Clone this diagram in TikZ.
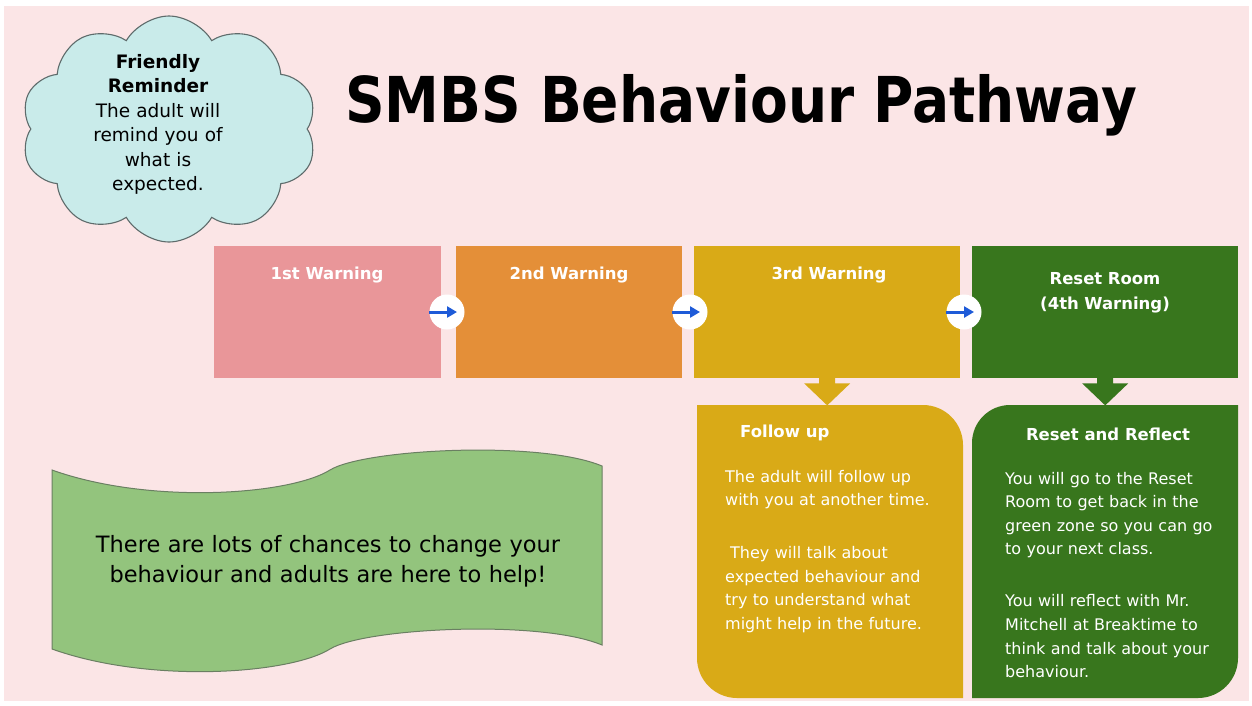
\documentclass[tikz,border=0pt]{standalone}
\usepackage{fontspec}
\setmainfont{DejaVu Sans}
\usetikzlibrary{shapes.symbols,arrows.meta,calc}

\definecolor{pagebg}{HTML}{FBE5E6}
\definecolor{warnA}{HTML}{E99699}
\definecolor{warnB}{HTML}{E48F38}
\definecolor{warnC}{HTML}{D9AA17}
\definecolor{warnD}{HTML}{38761D}
\definecolor{cloudfill}{HTML}{C9EBEA}
\definecolor{cloudline}{HTML}{5E6B6B}
\definecolor{bannerfill}{HTML}{93C47D}
\definecolor{bannerline}{HTML}{6A7F62}
\definecolor{arrowblue}{HTML}{1E5BD8}

\tikzset{
  warnbox/.style={rectangle, inner sep=0pt, anchor=north west, minimum height=132pt},
  headtext/.style={text=white, font=\bfseries\fontsize{16.5}{25}\selectfont, anchor=base},
  hop/.style={circle, fill=white, minimum size=35pt, inner sep=0pt},
  hoparrow/.style={draw=arrowblue, line width=3pt, -{Triangle[length=10pt,width=11pt]}},
  bodytext/.style={text=white, font=\fontsize{16}{23.6}\selectfont, align=left, anchor=base west, inner sep=0pt},
  boxhead/.style={text=white, font=\bfseries\fontsize{16.5}{20}\selectfont, inner sep=0pt},
}

\begin{document}
\begin{tikzpicture}[x=1pt,y=-1pt]
% page
\fill[white] (0,0) rectangle (1252,705);
\fill[pagebg] (4,6) rectangle (1249,701);
\useasboundingbox (0,0) rectangle (1252,705);

% title
\node[anchor=base, font=\bfseries\fontsize{55}{60}\selectfont, inner sep=0pt] (title) at (741,122)
  {\scalebox{1}[1.15]{SMBS Behaviour Pathway}};

% friendly reminder cloud
\node[cloud, cloud puffs=10, cloud puff arc=120, aspect=1.3, minimum width=296pt, minimum height=226pt,
      draw=cloudline, fill=cloudfill, line width=1.1pt] (cloud) at (169,129) {};
\node[anchor=base, text width=170pt, align=center, inner sep=0pt,
      font=\fontsize{18.5}{24.5}\selectfont] (cloudtext) at (158,68)
  {\textbf{Friendly}\\ \textbf{Reminder}\\ The adult will\\ remind you of\\ what is\\ expected.};

% warning steps
\node[warnbox, fill=warnA, minimum width=227pt] (w1) at (214,246) {};
\node[warnbox, fill=warnB, minimum width=226pt] (w2) at (456,246) {};
\node[warnbox, fill=warnC, minimum width=266pt] (w3) at (694,246) {};
\node[warnbox, fill=warnD, minimum width=266pt] (w4) at (972,246) {};

\node[headtext] (h1) at (327,279) {1st Warning};
\node[headtext] (h2) at (569,279) {2nd Warning};
\node[headtext] (h3) at (829,279) {3rd Warning};
\node[headtext, text width=200pt, align=center] (h4) at (1105,284) {Reset Room\\ (4th Warning)};

% step connectors
\node[hop] (c1) at (447,312) {};
\node[hop] (c2) at (690,312) {};
\node[hop] (c3) at (964,312) {};
\foreach \c in {c1,c2,c3}
  \draw[hoparrow] (\c.west) -- ([xshift=10pt]\c.center);

% down arrows
\foreach \w/\col in {w3/warnC, w4/warnD}
  \fill[\col] ($(\w.south)+(-8,-1)$) -- ($(\w.south)+(8,-1)$) -- ($(\w.south)+(8,5)$)
    -- ($(\w.south)+(23,5)$) -- ($(\w.south)+(0,27)$) -- ($(\w.south)+(-23,5)$)
    -- ($(\w.south)+(-8,5)$) -- cycle;

% follow up panel
\fill[warnC] (697,405) -- (923,405) .. controls (945,405) and (963,423) .. (963,445)
  -- (963,698) -- (737,698) .. controls (715,698) and (697,680) .. (697,658) -- cycle;
\node[boxhead, anchor=base west] (fuh) at (740,437) {Follow up};
\node[bodytext, text width=235pt] (fub) at (725,482)
  {The adult will follow up\\ with you at another time.\\[29.5pt]
   \hspace*{5pt}They will talk about\\ expected behaviour and\\ try to understand what\\ might help in the future.};

% reset and reflect panel
\fill[warnD] (972,443) .. controls (972,422) and (989,405) .. (1010,405) -- (1238,405)
  -- (1238,658) .. controls (1238,680) and (1220,698) .. (1198,698) -- (972,698) -- cycle;
\node[boxhead, anchor=base] (rrh) at (1108,440) {Reset and Reflect};
\node[bodytext, text width=230pt] (rrb) at (1005,484)
  {You will go to the Reset\\ Room to get back in the\\ green zone so you can go\\ to your next class.\\[28.5pt]
   You will reflect with Mr.\\ Mitchell at Breaktime to\\ think and talk about your\\ behaviour.};

% encouragement banner
\filldraw[fill=bannerfill, draw=bannerline, line width=1pt]
  (52,470) .. controls (150,505) and (290,495) .. (330,470)
  .. controls (364,449) and (540,440) .. (602,466) -- (602,645)
  .. controls (540,619) and (364,628) .. (330,649)
  .. controls (290,674) and (150,684) .. (52,649) -- cycle;
\node[anchor=base, text width=540pt, align=center, inner sep=0pt,
      font=\fontsize{22.5}{30}\selectfont] (banner) at (328,552)
  {There are lots of chances to change your\\ behaviour and adults are here to help!};
\end{tikzpicture}
\end{document}
